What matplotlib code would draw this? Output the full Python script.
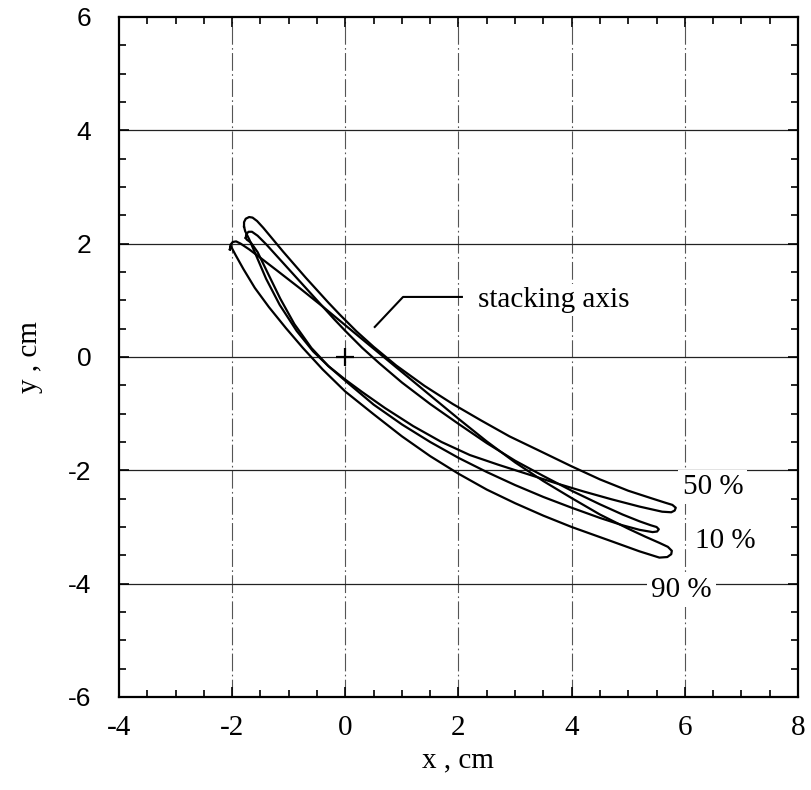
import matplotlib
matplotlib.use("Agg")
import matplotlib.pyplot as plt
import numpy as np

plt.rcParams["axes.unicode_minus"] = False

# ---- data (outline points, LE -> upper -> TE -> lower -> LE) ----
p50_x = [-1.79, -1.79, -1.76, -1.70, -1.64, -1.56, -1.45, -1.30, -1.10, -0.90, -0.70, -0.50, -0.30, -0.10, 0.20, 0.50,
         0.90, 1.40, 1.90, 2.40, 2.90, 3.40, 4.00, 4.50, 5.00, 5.40, 5.65, 5.78, 5.84, 5.82, 5.76,
         5.60, 5.20, 4.70, 4.20, 3.70, 3.20, 2.70, 2.20, 1.70, 1.20, 0.70, 0.30, 0.00, -0.30, -0.57, -0.86,
         -1.16, -1.40, -1.58, -1.70, -1.77]
p50_y = [2.30, 2.38, 2.44, 2.47, 2.46, 2.40, 2.28, 2.10, 1.86, 1.63, 1.40, 1.18, 0.96, 0.75, 0.45, 0.18,
         -0.15, -0.51, -0.83, -1.12, -1.40, -1.64, -1.93, -2.16, -2.36, -2.49, -2.57, -2.61, -2.66, -2.71, -2.74,
         -2.73, -2.64, -2.51, -2.37, -2.22, -2.06, -1.90, -1.73, -1.50, -1.22, -0.90, -0.62, -0.40, -0.16, 0.10, 0.46,
         0.92, 1.38, 1.80, 2.08, 2.22]

p10_x = [-1.76, -1.75, -1.71, -1.65, -1.55, -1.40, -1.20, -1.00, -0.80, -0.60, -0.40, -0.20, 0.00, 0.30, 0.60,
         1.00, 1.50, 2.00, 2.50, 3.00, 3.50, 4.00, 4.50, 4.90, 5.20, 5.40, 5.50, 5.54, 5.51, 5.43,
         5.20, 4.90, 4.50, 4.00, 3.50, 3.00, 2.50, 2.00, 1.50, 1.00, 0.50, 0.00, -0.30, -0.60, -0.90,
         -1.15, -1.38, -1.55, -1.67, -1.74]
p10_y = [2.10, 2.17, 2.21, 2.21, 2.14, 1.99, 1.77, 1.55, 1.33, 1.11, 0.89, 0.67, 0.46, 0.16, -0.11,
         -0.45, -0.83, -1.18, -1.52, -1.83, -2.10, -2.36, -2.60, -2.78, -2.90, -2.97, -3.00, -3.04, -3.08, -3.09,
         -3.05, -2.97, -2.84, -2.66, -2.47, -2.26, -2.03, -1.78, -1.50, -1.19, -0.84, -0.42, -0.16, 0.16, 0.58,
         1.03, 1.50, 1.85, 2.02, 2.07]

p90_x = [-2.04, -2.03, -1.99, -1.93, -1.85, -1.70, -1.50, -1.20, -0.80, -0.40, 0.00, 0.40, 0.80, 1.20, 1.60,
         2.00, 2.50, 3.00, 3.50, 4.00, 4.50, 5.00, 5.30, 5.55, 5.70, 5.77, 5.76, 5.69,
         5.55, 5.20, 4.70, 4.00, 3.50, 3.00, 2.50, 2.00, 1.50, 1.00, 0.50, 0.00, -0.40, -0.75, -1.05,
         -1.35, -1.60, -1.80, -1.94, -2.02]
p90_y = [1.90, 1.98, 2.03, 2.04, 2.00, 1.90, 1.75, 1.52, 1.21, 0.89, 0.56, 0.23, -0.10, -0.43, -0.76,
         -1.09, -1.49, -1.86, -2.19, -2.49, -2.78, -3.03, -3.17, -3.28, -3.35, -3.42, -3.48, -3.53,
         -3.54, -3.43, -3.25, -3.00, -2.80, -2.58, -2.34, -2.06, -1.75, -1.40, -1.01, -0.61, -0.22, 0.16, 0.51,
         0.88, 1.22, 1.55, 1.80, 1.95]

labels = ["50 %", "10 %", "90 %"]
label_x = [5.96, 6.18, 5.41]
label_y = [-2.29, -3.24, -4.11]

stack_pt = (0.0, 0.0)
leader_x = [0.52, 1.02, 2.06]
leader_y = [0.53, 1.06, 1.06]
annot_text = "stacking axis"

xticks = [-4, -2, 0, 2, 4, 6, 8]
yticks = [-6, -4, -2, 0, 2, 4, 6]
xgrid = [-2, 0, 2, 4, 6]
ygrid = [-4, -2, 0, 2, 4]

# ---- figure ----
W, H = 812, 790
fig = plt.figure(figsize=(W / 100, H / 100), dpi=100)
L, R, B, T = 119, 798, 697, 17
ax = fig.add_axes([L / W, 1 - B / H, (R - L) / W, (B - T) / H])
ax.set_xlim(-4, 8)
ax.set_ylim(-6, 6)

serif = ["Liberation Serif", "DejaVu Serif"]
sans = ["Liberation Sans", "DejaVu Sans"]

for gx in xgrid:
    ax.axvline(gx, color="#555555", lw=0.8, ls=(0, (16, 3, 1.5, 3)), zorder=1)
for gy in ygrid:
    ax.axhline(gy, color="#222222", lw=0.9, zorder=1)

for px, py in [(p50_x, p50_y), (p10_x, p10_y), (p90_x, p90_y)]:
    ax.plot(px + px[:1], py + py[:1], color="black", lw=1.6, zorder=3,
            solid_joinstyle="round")

ax.plot([stack_pt[0]], [stack_pt[1]], marker="+", ms=13, mew=1.6, color="black", zorder=4)
ax.plot(leader_x, leader_y, color="black", lw=1.5, zorder=4)
ax.text(2.34, 1.0, annot_text, fontsize=21, family=serif, ha="left", va="center",
        bbox=dict(facecolor="white", edgecolor="none", pad=2), zorder=2)

for t, tx, ty in zip(labels, label_x, label_y):
    ax.text(tx, ty, t, fontsize=21, family=serif, ha="left", va="center",
            bbox=dict(facecolor="white", edgecolor="none", pad=3), zorder=2)

ax.set_xticks(xticks)
ax.set_yticks(yticks)
ax.set_xticks(np.arange(-4, 8.01, 0.5), minor=True)
ax.set_yticks(np.arange(-6, 6.01, 0.5), minor=True)
ax.tick_params(which="both", direction="in", top=True, right=True, width=1.2)
ax.tick_params(which="major", length=7)
ax.tick_params(which="minor", length=5)
ax.tick_params(axis="x", which="major", pad=13)
ax.tick_params(axis="y", which="major", pad=20)
for lab in ax.get_xticklabels():
    lab.set_fontfamily(serif)
    lab.set_fontsize(21)
for lab in ax.get_yticklabels():
    lab.set_fontfamily(sans)
    lab.set_fontsize(19)
for s in ax.spines.values():
    s.set_linewidth(1.6)

fig.text(458 / W, 1 - 760 / H, "x , cm", fontsize=21, family=serif, ha="center", va="center")
fig.text(30 / W, 1 - 357 / H, "y , cm", fontsize=21, family=serif, ha="center", va="center",
         rotation=90)

fig.savefig("out.png", dpi=100)
